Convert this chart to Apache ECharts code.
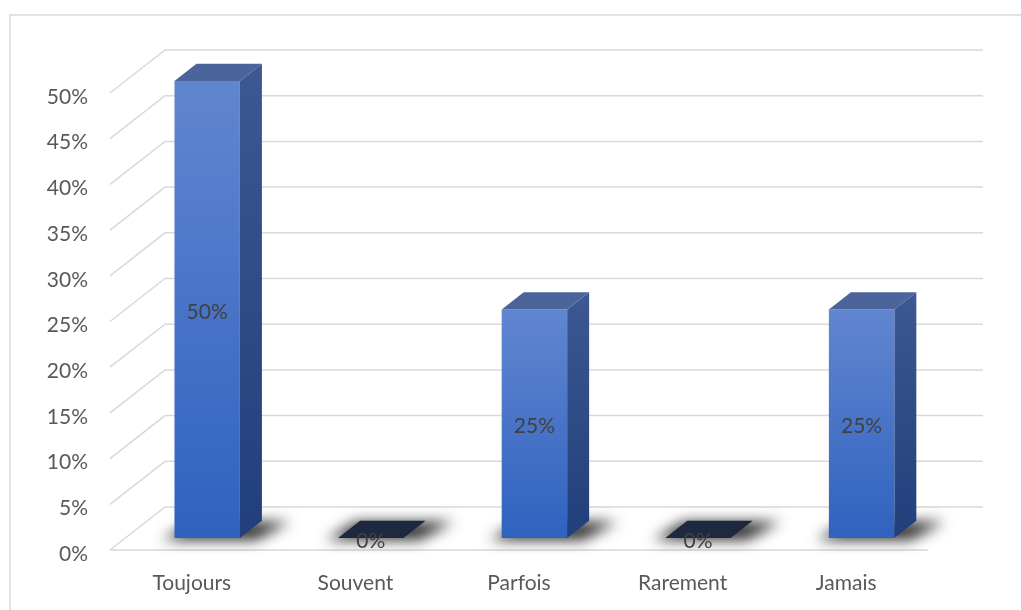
<!DOCTYPE html>
<html>
<head>
<meta charset="utf-8">
<script src="https://cdn.jsdelivr.net/npm/echarts@6/dist/echarts.min.js"></script>
<style>
  html, body { margin: 0; padding: 0; background: #ffffff; }
  #chart { width: 1021px; height: 610px; }
</style>
</head>
<body>
<div id="chart"></div>
<script>
// Response shares per answer
const categories = ['Toujours', 'Souvent', 'Parfois', 'Rarement', 'Jamais'];
const values = [50, 0, 25, 0, 25];
const yTicks = [0, 5, 10, 15, 20, 25, 30, 35, 40, 45, 50];

// Perspective of the floor / back wall (pixels for full depth)
const DEPTH_X = 55;
const DEPTH_Y = -43;
// Bars occupy this slice of the depth
const BAR_D0 = 0.28;
const BAR_D1 = 0.68;
const BAR_HALF = 0.2; // half width as a fraction of category band

const FONT = 'Lato, "Liberation Sans", sans-serif';
const FONT_SIZE = 21;
const TEXT = '#595959';
const GRID = '#d9d9d9';

function renderGrid(params, api) {
  const cs = params.coordSys;
  const y = api.coord([0, api.value(1)])[1];
  const x0 = cs.x;
  const x1 = cs.x + cs.width;
  const children = [{
    type: 'polyline',
    shape: { points: [[x0, y], [x0 + DEPTH_X, y + DEPTH_Y], [x1 + DEPTH_X, y + DEPTH_Y]] },
    style: { stroke: GRID, lineWidth: 1.5, fill: null }
  }];
  if (api.value(1) === 0) {
    children.push({
      type: 'line',
      shape: { x1: x0, y1: y, x2: x1, y2: y },
      style: { stroke: GRID, lineWidth: 1.5 }
    });
  }
  return { type: 'group', children: children };
}

function renderBar(params, api) {
  const idx = api.value(0);
  const v = api.value(1);
  const base = api.coord([idx, 0]);
  const top = api.coord([idx, v]);
  const band = api.size([1, 0])[0];
  const fx = DEPTH_X * BAR_D0, fy = DEPTH_Y * BAR_D0;
  const bx = DEPTH_X * (BAR_D1 - BAR_D0), by = DEPTH_Y * (BAR_D1 - BAR_D0);
  const cx = base[0] + fx;
  const x0 = cx - band * BAR_HALF;
  const x1 = cx + band * BAR_HALF;
  const yB = base[1] + fy;
  const yT = top[1] + fy;
  const children = [];

  // soft shadow cast on the floor (shape kept off-canvas, only its blur is shown)
  const OFF = 3000;
  children.push({
    type: 'polygon',
    shape: { points: [
      [x0 - 12, yB + 2 - OFF], [x1 + 16, yB + 2 - OFF],
      [x1 + bx + 28, yB + by + 1 - OFF], [x0 + bx - 4, yB + by + 1 - OFF]
    ] },
    style: { fill: '#000', shadowBlur: 14, shadowColor: 'rgba(0,0,0,0.82)', shadowOffsetX: 0, shadowOffsetY: OFF }
  });

  if (v > 0) {
    // right side face
    children.push({
      type: 'polygon',
      shape: { points: [[x1, yT], [x1 + bx, yT + by], [x1 + bx, yB + by], [x1, yB]] },
      style: { fill: new echarts.graphic.LinearGradient(0, 0, 0, 1, [
        { offset: 0, color: '#3d5892' }, { offset: 1, color: '#213f7b' }
      ]) }
    });
    // front face
    children.push({
      type: 'rect',
      shape: { x: x0, y: yT, width: x1 - x0, height: yB - yT },
      style: { fill: new echarts.graphic.LinearGradient(0, 0, 0, 1, [
        { offset: 0, color: '#6186d0' }, { offset: 1, color: '#2f62bf' }
      ]) }
    });
    // top face
    children.push({
      type: 'polygon',
      shape: { points: [[x0, yT], [x1, yT], [x1 + bx, yT + by], [x0 + bx, yT + by]] },
      style: { fill: '#4b649b' }
    });
  } else {
    // flat bar: only its top face is visible
    children.push({
      type: 'polygon',
      shape: { points: [[x0, yB], [x1, yB], [x1 + bx, yB + by], [x0 + bx, yB + by]] },
      style: { fill: '#1e283f' }
    });
  }

  // value label centred on the front face
  children.push({
    type: 'text',
    z2: 10,
    style: {
      text: v + '%', x: cx, y: (yT + yB) / 2 + 3,
      align: 'center', verticalAlign: 'middle',
      fill: '#404040', font: FONT_SIZE + 'px ' + FONT
    }
  });
  return { type: 'group', children: children };
}

const chart = echarts.init(document.getElementById('chart'), null, { renderer: 'canvas' });
chart.setOption({
  animation: false,
  backgroundColor: '#ffffff',
  graphic: [{
    type: 'rect', z: -10,
    shape: { x: 10, y: 15, width: 1040, height: 640 },
    style: { fill: null, stroke: GRID, lineWidth: 1.5 }
  }],
  grid: { left: 110, right: 93, top: 93, bottom: 60, containLabel: false },
  xAxis: {
    type: 'category',
    data: categories,
    axisLine: { show: false },
    axisTick: { show: false },
    axisLabel: { color: TEXT, fontSize: FONT_SIZE, fontFamily: FONT, margin: 23 },
    splitLine: { show: false }
  },
  yAxis: {
    type: 'value',
    min: 0, max: 50, interval: 5,
    axisLine: { show: false },
    axisTick: { show: false },
    splitLine: { show: false },
    axisLabel: {
      margin: 22,
      formatter: '{t|{value}%}',
      rich: { t: { color: TEXT, fontSize: FONT_SIZE, fontFamily: FONT, padding: [8, 0, 0, 0] } }
    }
  },
  series: [
    {
      type: 'custom',
      z: 1,
      renderItem: renderGrid,
      data: yTicks.map(t => [0, t]),
      silent: true
    },
    {
      type: 'custom',
      z: 2,
      renderItem: renderBar,
      data: values.map((v, i) => [i, v]),
      silent: true
    }
  ]
});
</script>
</body>
</html>
